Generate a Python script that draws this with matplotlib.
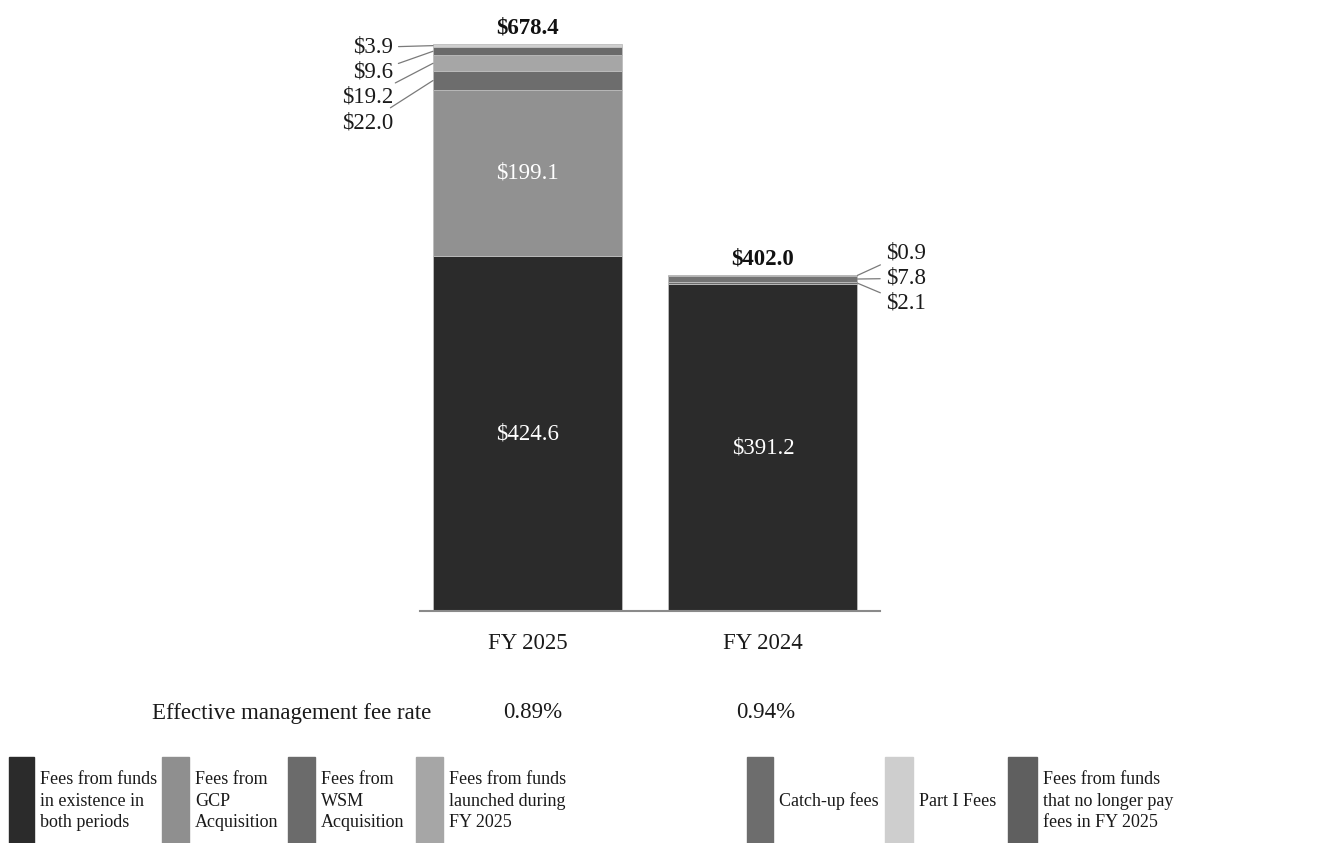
import matplotlib
matplotlib.use("Agg")
import matplotlib.pyplot as plt
from matplotlib.patches import Rectangle

plt.rcParams['font.family'] = ['Liberation Serif', 'DejaVu Serif']

# ---------------- data ----------------
periods = ["FY 2025", "FY 2024"]
series_names = [
    "Fees from funds\nin existence in\nboth periods",
    "Fees from\nGCP\nAcquisition",
    "Fees from\nWSM\nAcquisition",
    "Fees from funds\nlaunched during\nFY 2025",
    "Catch-up fees",
    "Part I Fees",
    "Fees from funds\nthat no longer pay\nfees in FY 2025",
]
existing = [424.6, 391.2]
gcp = [199.1, 0.0]
wsm = [22.0, 0.0]
launched = [19.2, 0.0]
catch_up = [9.6, 2.1]
part_i = [3.9, 7.8]
no_longer = [0.0, 0.9]
totals = [678.4, 402.0]
fee_rate_label = "Effective management fee rate"
fee_rates = ["0.89%", "0.94%"]

# per-segment order for FY2025 and FY2024 stacks (bottom -> top)
stack_2025 = [existing[0], gcp[0], wsm[0], launched[0], catch_up[0], part_i[0]]
stack_2024 = [existing[1], catch_up[1], part_i[1], no_longer[1]]

# ---------------- styles ----------------
legend_colors = ["#2b2b2b", "#8f8f8f", "#6b6b6b", "#a6a6a6", "#6d6d6d", "#cecece", "#5f5f5f"]
colors_2025 = ["#2b2b2b", "#919191", "#6d6d6d", "#a6a6a6", "#6a6a6a", "#cfcfcf"]
colors_2024 = ["#2b2b2b", "#6b6b6b", "#737373", "#5e5e5e"]
text_2025 = ["white", "white", "white", "white", "white", "#111111"]
text_2024 = ["white", "white", "white", "white"]

W, H = 1330, 843
fig = plt.figure(figsize=(W / 100, H / 100), dpi=100)
ax = fig.add_axes([420 / W, (H - 611) / H, 460 / W, 567 / H])

x = [0, 1]
bw = 0.8025
fs = 16.5
lfs = 13.0


def draw_stack(xpos, vals, cols):
    bottom = 0.0
    rects = []
    for v, c in zip(vals, cols):
        ax.bar(xpos, v, bw, bottom=bottom, color=c, edgecolor="#bdbdbd",
               linewidth=0.6, zorder=2)
        rects.append((bottom, v))
        bottom += v
    return rects


segs25 = draw_stack(x[0], stack_2025, colors_2025)
segs24 = draw_stack(x[1], stack_2024, colors_2024)

ax.set_xlim(-0.4565, 1.497)
ax.set_ylim(0, totals[0])
for s in ["left", "right", "top"]:
    ax.spines[s].set_visible(False)
ax.spines["bottom"].set_color("#8a8a8a")
ax.spines["bottom"].set_linewidth(1.5)
ax.set_yticks([])
ax.set_xticks(x)
ax.set_xticklabels(periods, fontsize=fs, color="#1a1a1a")
ax.tick_params(axis="x", length=0, pad=16)


def fmt(v):
    return f"${v:.1f}"


big_min = 100
# FY2025 labels
small_25 = [i for i, (b, v) in enumerate(segs25) if v < big_min]
for i, (b, v) in enumerate(segs25):
    if v >= big_min:
        ax.text(x[0], b + v / 2, fmt(v), ha="center", va="center", fontsize=fs,
                color=text_2025[i], zorder=3)
for k, i in enumerate(reversed(small_25)):
    b, v = segs25[i]
    ty = totals[0] - 4 - k * 30
    ax.annotate(fmt(v), xy=(x[0] - bw / 2, b + v / 2),
                xytext=(x[0] - bw / 2 - 0.17, ty), textcoords="data",
                ha="right", va="center", fontsize=fs, color="#1a1a1a",
                arrowprops=dict(arrowstyle="-", color="#7a7a7a", lw=0.9,
                                shrinkA=2, shrinkB=0),
                annotation_clip=False, zorder=3)

# FY2024 labels
small_24 = [i for i, (b, v) in enumerate(segs24) if v < big_min]
for i, (b, v) in enumerate(segs24):
    if v >= big_min:
        ax.text(x[1], b + v / 2, fmt(v), ha="center", va="center", fontsize=fs,
                color=text_2024[i], zorder=3)
for k, i in enumerate(reversed(small_24)):
    b, v = segs24[i]
    ty = totals[1] + 26 - k * 30
    ax.annotate(fmt(v), xy=(x[1] + bw / 2, b + v / 2),
                xytext=(x[1] + bw / 2 + 0.12, ty), textcoords="data",
                ha="left", va="center", fontsize=fs, color="#1a1a1a",
                arrowprops=dict(arrowstyle="-", color="#7a7a7a", lw=0.9,
                                shrinkA=2, shrinkB=0),
                annotation_clip=False, zorder=3)

# totals
for xi, t in zip(x, totals):
    ax.annotate(fmt(t), xy=(xi, t), xytext=(0, 4), textcoords="offset points",
                ha="center", va="bottom", fontsize=fs, fontweight="bold",
                color="#111111", annotation_clip=False)

# effective management fee rate row
fy = (H - 713) / H
fig.text(152 / W, fy, fee_rate_label, ha="left", va="center", fontsize=fs, color="#1a1a1a")
for cx, r in zip([533, 766], fee_rates):
    fig.text(cx / W, fy, r, ha="center", va="center", fontsize=fs, color="#1a1a1a")

# legend (manual, bottom)
patch_x = [9, 162, 288, 416, 747, 885, 1008]
patch_w = [25, 27, 27, 27, 26, 28, 29]
for px, pw, c, name in zip(patch_x, patch_w, legend_colors, series_names):
    fig.patches.append(Rectangle((px / W, 0), pw / W, (H - 757) / H,
                                 transform=fig.transFigure, color=c, zorder=1))
    fig.text((px + pw + 6) / W, (H - 801) / H, name, ha="left", va="center",
             fontsize=lfs, color="#1a1a1a", linespacing=1.32)

fig.savefig("out.png", dpi=100)
